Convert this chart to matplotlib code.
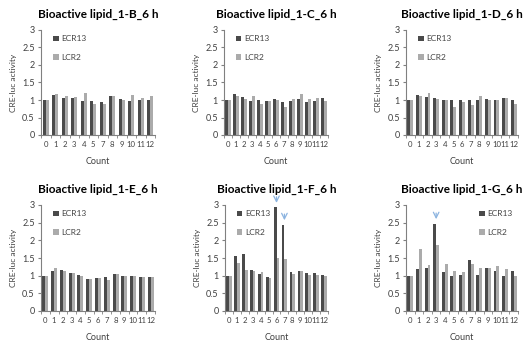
import numpy as np
import matplotlib.pyplot as plt

plt.rcParams['font.family'] = ['Lato', 'DejaVu Sans']

counts_b = ['0', '1', '2', '3', '4', '5', '7', '8', '9', '10', '11', '12']
counts = ['0', '1', '2', '3', '4', '5', '6', '7', '8', '9', '10', '11', '12']

ecr_b = [1.0, 1.15, 1.07, 1.05, 0.98, 0.97, 0.93, 1.11, 1.03, 0.97, 1.01, 1.0]
lcr_b = [1.0, 1.17, 1.10, 1.09, 1.19, 0.89, 0.88, 1.12, 0.99, 1.15, 1.06, 1.10]
ecr_c = [1.0, 1.16, 1.09, 0.98, 0.99, 0.97, 1.02, 0.95, 0.96, 1.02, 0.94, 0.97, 1.05]
lcr_c = [1.0, 1.10, 1.03, 1.12, 0.89, 0.97, 0.99, 0.80, 1.04, 1.18, 1.03, 1.06, 0.96]
ecr_d = [1.0, 1.15, 1.09, 1.05, 1.0, 1.01, 0.99, 0.99, 0.99, 1.04, 1.0, 1.06, 1.0]
lcr_d = [1.0, 1.12, 1.21, 1.04, 1.0, 0.80, 0.95, 0.85, 1.12, 1.01, 1.0, 1.07, 0.89]
ecr_e = [1.0, 1.14, 1.15, 1.08, 1.03, 0.91, 0.93, 0.97, 1.04, 1.0, 0.98, 0.95, 0.95]
lcr_e = [1.0, 1.23, 1.13, 1.08, 0.98, 0.91, 0.92, 0.87, 1.06, 0.99, 0.98, 0.97, 0.97]
ecr_f = [1.0, 1.56, 1.61, 1.15, 1.04, 0.96, 2.93, 2.44, 1.10, 1.13, 1.08, 1.07, 1.01]
lcr_f = [1.0, 1.37, 1.17, 1.12, 1.10, 0.93, 1.49, 1.46, 1.06, 1.12, 1.03, 1.01, 0.98]
ecr_g = [1.0, 1.20, 1.21, 2.47, 1.09, 0.99, 1.03, 1.45, 1.01, 1.23, 1.13, 0.99, 1.12]
lcr_g = [1.0, 1.76, 1.31, 1.87, 1.33, 1.13, 1.10, 1.33, 1.23, 1.22, 1.27, 1.20, 0.98]

titles = ['Bioactive lipid_1-B_6 h', 'Bioactive lipid_1-C_6 h', 'Bioactive lipid_1-D_6 h',
          'Bioactive lipid_1-E_6 h', 'Bioactive lipid_1-F_6 h', 'Bioactive lipid_1-G_6 h']
labels = [counts_b, counts, counts, counts, counts, counts]
ecr = [ecr_b, ecr_c, ecr_d, ecr_e, ecr_f, ecr_g]
lcr = [lcr_b, lcr_c, lcr_d, lcr_e, lcr_f, lcr_g]
# arrows mark the strong ECR13 responses (panel index, category index)
arrows = [(4, 6), (4, 7), (5, 3)]

# axes boxes in pixels: left, right, top(y=3), bottom(y=0)
boxes = [(41, 155, 30, 135), (224, 328, 30, 135), (406, 518, 30, 135),
         (41, 155, 205, 311), (225, 328, 205, 311), (406, 518, 205, 311)]

W, H = 531, 350
fig = plt.figure(figsize=(W / 100, H / 100), dpi=100)
txt = '#404040'
narrow = ['Liberation Sans Narrow', 'Lato', 'DejaVu Sans']
axes = []
for i in range(6):
    l, r, t, b = boxes[i]
    ax = fig.add_axes([l / W, 1 - b / H, (r - l) / W, (b - t) / H])
    axes.append(ax)
    x = np.arange(len(labels[i]))
    w = 0.34
    ax.bar(x - w / 2, ecr[i], w, color='#4a4a4a', label='ECR13')
    ax.bar(x + w / 2, lcr[i], w, color='#ababab', label='LCR2')
    ax.set_xlim(-0.5, len(x) - 0.5)
    ax.set_ylim(0, 3)
    ax.set_yticks([0, 0.5, 1, 1.5, 2, 2.5, 3])
    ax.set_yticklabels(['0', '0.5', '1', '1.5', '2', '2.5', '3'])
    ax.set_xticks(x)
    ax.set_xticklabels(labels[i], family=narrow, fontsize=5.6)
    ax.set_xticks(np.arange(len(x) + 1) - 0.5, minor=True)
    ax.tick_params(axis='x', which='major', length=0, pad=4, colors=txt)
    ax.tick_params(axis='x', which='minor', length=2.5, color='#808080')
    ax.tick_params(axis='y', length=2.5, color='#808080', labelsize=6.5, labelcolor=txt, pad=2)
    for s in ['top', 'right']:
        ax.spines[s].set_visible(False)
    for s in ['left', 'bottom']:
        ax.spines[s].set_color('#808080')
        ax.spines[s].set_linewidth(0.8)
    ax.set_title(titles[i], fontsize=8.5, fontweight='bold', pad=9)
    ax.set_xlabel('Count', fontsize=6.5, color=txt, labelpad=7)
    ax.set_ylabel('CRE-luc activity', fontsize=6, color=txt, labelpad=4)
    if i == 5:
        ax.legend(loc='upper right', bbox_to_anchor=(1.02, 1.02), frameon=False, fontsize=6,
                  handlelength=0.7, handleheight=0.7, handletextpad=0.3, labelspacing=1.4,
                  labelcolor=txt)
    else:
        ax.legend(loc='upper left', bbox_to_anchor=(0.04, 1.02), frameon=False, fontsize=6,
                  handlelength=0.7, handleheight=0.7, handletextpad=0.3, labelspacing=1.4,
                  labelcolor=txt)

for p, k in arrows:
    v = ecr[p][k]
    axes[p].annotate('', xy=(k, v + 0.05), xytext=(k, v + 0.38),
                     arrowprops=dict(arrowstyle='->', color='#8cb4e0', lw=0.9),
                     annotation_clip=False)

fig.savefig('out.png', dpi=100)
